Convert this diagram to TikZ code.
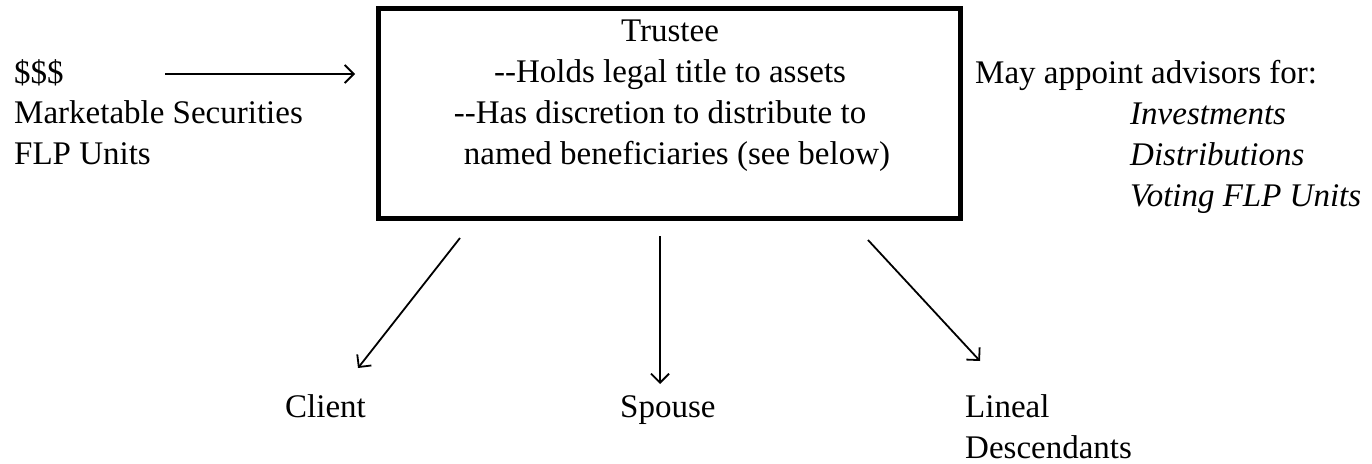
\documentclass[tikz,border=0pt]{standalone}
\usepackage{fontspec}
\setmainfont{Liberation Serif}
\usetikzlibrary{arrows.meta}
\begin{document}
\begin{tikzpicture}[x=1pt,y=-1pt,
  txt/.style={font=\fontsize{33}{41}\selectfont, inner sep=0pt, anchor=base west},
  conn/.style={line width=1.8pt, -{Straight Barb[length=9pt,width=18pt,line width=1.8pt]}},
  boxstyle/.style={draw, line width=5pt, minimum width=581.5pt, minimum height=210pt, inner sep=0pt}]
\useasboundingbox (0,0) rectangle (1372,463);
\node[boxstyle] (box) at (669.25,113.5) {};
\node[txt, anchor=base] (ttl) at (670,41) {Trustee};
\node[txt, anchor=base] (l1) at (670,82) {-{}-Holds legal title to assets};
\node[txt, anchor=base] (l2) at (660,123) {-{}-Has discretion to distribute to};
\node[txt, anchor=base] (l3) at (677,164) {named beneficiaries (see below)};
\node[txt] (src1) at (14,83) {\$\$\$};
\node[txt] (src2) at (14,123.5) {Marketable Securities};
\node[txt] (src3) at (14,164.5) {FLP Units};
\node[txt] (adv) at (975,83) {May appoint advisors for:};
\node[txt] (a1) at (1130,124) {\itshape Investments};
\node[txt] (a2) at (1130,165) {\itshape Distributions};
\node[txt] (a3) at (1130,206) {\itshape Voting FLP Units};
\node[txt] (client) at (285,417) {Client};
\node[txt] (spouse) at (620,417) {Spouse};
\node[txt] (lin1) at (965,417) {Lineal};
\node[txt] (lin2) at (965,458) {Descendants};
\coordinate (inS) at (165,74);
\coordinate (inE) at (355,74);
\coordinate (c1s) at (460,238);
\coordinate (c1e) at (358,368);
\coordinate (c2s) at (660,236);
\coordinate (c2e) at (660,384);
\coordinate (c3s) at (868,240);
\coordinate (c3e) at (980,361);
\draw[conn] (inS) -- (inE);
\draw[conn] (c1s) -- (c1e);
\draw[conn] (c2s) -- (c2e);
\draw[conn] (c3s) -- (c3e);
\end{tikzpicture}
\end{document}
